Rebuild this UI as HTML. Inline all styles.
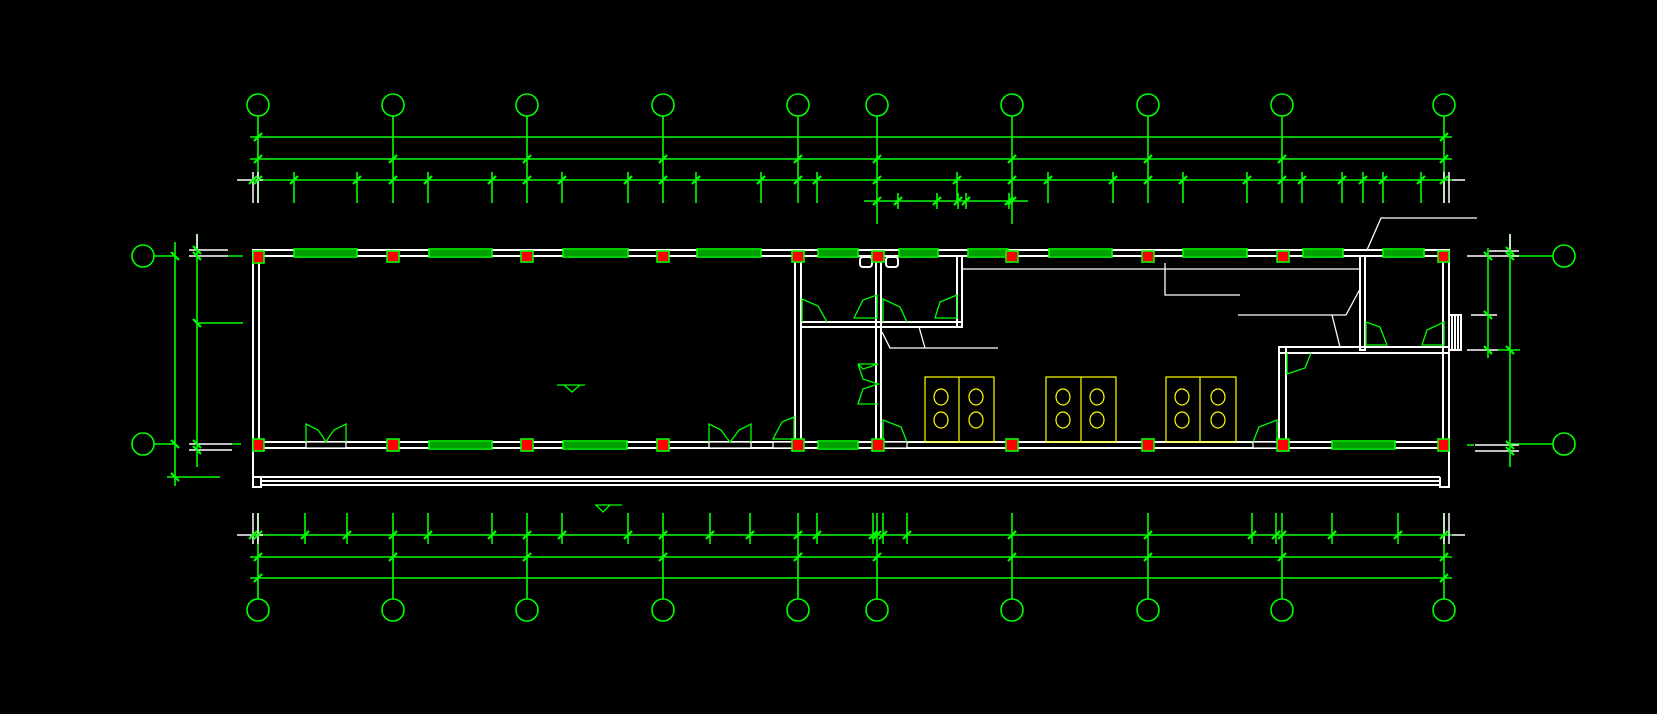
<!DOCTYPE html>
<html><head><meta charset="utf-8"><style>html,body{margin:0;padding:0;background:#000}svg{display:block}</style></head>
<body>
<svg width="1657" height="714" viewBox="0 0 1657 714" xmlns="http://www.w3.org/2000/svg">
<rect width="1657" height="714" fill="#000"/>
<defs>
<g id="tk"><line x1="-4" y1="4" x2="4" y2="-4" stroke="#00ff00" stroke-width="2.2"/></g>
<g id="tkv"><line x1="-4" y1="-4" x2="4" y2="4" stroke="#00ff00" stroke-width="2.2"/></g>
</defs>
<g fill="none" stroke="#00ff00" stroke-width="1.6">
<!-- top axis circles and lines -->
<g>
<circle cx="258" cy="105" r="11"/><circle cx="393" cy="105" r="11"/><circle cx="527" cy="105" r="11"/><circle cx="663" cy="105" r="11"/><circle cx="798" cy="105" r="11"/><circle cx="877" cy="105" r="11"/><circle cx="1012" cy="105" r="11"/><circle cx="1148" cy="105" r="11"/><circle cx="1282" cy="105" r="11"/><circle cx="1444" cy="105" r="11"/>
<path d="M258 116V203M393 116V203M527 116V203M663 116V203M798 116V203M877 116V224M1012 116V224M1148 116V203M1282 116V203M1444 116V203"/>
<path d="M250 137H1452M250 159H1452M252 180H1452M864 201H1028"/>
<path d="M294 172V203M357 172V203M428 172V203M492 172V203M562 172V203M628 172V203M696 172V203M761 172V203M817 172V203M957 172V203M1048 172V203M1113 172V203M1183 172V203M1247 172V203M1302 172V203M1342 172V203M1363 172V203M1383 172V203M1421 172V203M898 193V209M937 193V209M958 193V209M966 193V209M1009 193V209"/>
<!-- bottom -->
<circle cx="258" cy="610" r="11"/><circle cx="393" cy="610" r="11"/><circle cx="527" cy="610" r="11"/><circle cx="663" cy="610" r="11"/><circle cx="798" cy="610" r="11"/><circle cx="877" cy="610" r="11"/><circle cx="1012" cy="610" r="11"/><circle cx="1148" cy="610" r="11"/><circle cx="1282" cy="610" r="11"/><circle cx="1444" cy="610" r="11"/>
<path d="M258 513V599M393 513V599M527 513V599M663 513V599M798 513V599M877 513V599M1012 513V599M1148 513V599M1282 513V599M1444 513V599"/>
<path d="M252 535H1452M250 557H1452M250 578H1452"/>
<path d="M305 513V544M347 513V544M428 513V544M492 513V544M562 513V544M628 513V544M710 513V544M750 513V544M817 513V544M873 513V544M883 513V544M907 513V544M1252 513V544M1276 513V544M1332 513V544M1398 513V544"/>
<!-- left dims -->
<circle cx="143" cy="256" r="11"/><circle cx="143" cy="444" r="11"/>
<path d="M154 256H175M154 444H175M175 242V486M197 234V467M228 256H243M197 323H243M232 444H241M167 477H220"/>
<!-- right dims -->
<circle cx="1564" cy="256" r="11"/><circle cx="1564" cy="444" r="11"/>
<path d="M1510 256H1553M1510 444H1553M1488 248V358M1510 234V467M1498 350H1520M1467 445H1474"/>
</g>
<g stroke="#fff" stroke-width="1.5" fill="none">
<path d="M237 180H252M256 180H263M237 535H252M256 535H263M253 172V203M258 172V203M253 513V544M258 513V544M1452 180H1465M1452 535H1465M1444 172V203M1449 172V203M1444 513V544M1449 513V544"/>
<path d="M189 250H228M189 256H228M189 444H232M189 450H232M1489 251H1519M1467 256H1519M1471 315H1497M1467 350H1498M1475 445H1519M1475 451H1519M197 234V250M1510 234V250"/>
</g>
<!-- ticks -->
<g>
<use href="#tk" x="258" y="137"/><use href="#tk" x="1444" y="137"/>
<use href="#tk" x="258" y="159"/><use href="#tk" x="393" y="159"/><use href="#tk" x="527" y="159"/><use href="#tk" x="663" y="159"/><use href="#tk" x="798" y="159"/><use href="#tk" x="877" y="159"/><use href="#tk" x="1012" y="159"/><use href="#tk" x="1148" y="159"/><use href="#tk" x="1282" y="159"/><use href="#tk" x="1444" y="159"/>
<use href="#tk" x="253" y="180"/><use href="#tk" x="258" y="180"/><use href="#tk" x="294" y="180"/><use href="#tk" x="357" y="180"/><use href="#tk" x="393" y="180"/><use href="#tk" x="428" y="180"/><use href="#tk" x="492" y="180"/><use href="#tk" x="527" y="180"/><use href="#tk" x="562" y="180"/><use href="#tk" x="628" y="180"/><use href="#tk" x="663" y="180"/><use href="#tk" x="696" y="180"/><use href="#tk" x="761" y="180"/><use href="#tk" x="798" y="180"/><use href="#tk" x="817" y="180"/><use href="#tk" x="877" y="180"/><use href="#tk" x="957" y="180"/><use href="#tk" x="1012" y="180"/><use href="#tk" x="1048" y="180"/><use href="#tk" x="1113" y="180"/><use href="#tk" x="1148" y="180"/><use href="#tk" x="1183" y="180"/><use href="#tk" x="1247" y="180"/><use href="#tk" x="1282" y="180"/><use href="#tk" x="1302" y="180"/><use href="#tk" x="1342" y="180"/><use href="#tk" x="1363" y="180"/><use href="#tk" x="1383" y="180"/><use href="#tk" x="1421" y="180"/><use href="#tk" x="1444" y="180"/>
<use href="#tk" x="877" y="201"/><use href="#tk" x="898" y="201"/><use href="#tk" x="937" y="201"/><use href="#tk" x="958" y="201"/><use href="#tk" x="966" y="201"/><use href="#tk" x="1009" y="201"/><use href="#tk" x="1012" y="201"/>
<use href="#tk" x="253" y="535"/><use href="#tk" x="258" y="535"/><use href="#tk" x="305" y="535"/><use href="#tk" x="347" y="535"/><use href="#tk" x="393" y="535"/><use href="#tk" x="428" y="535"/><use href="#tk" x="492" y="535"/><use href="#tk" x="527" y="535"/><use href="#tk" x="562" y="535"/><use href="#tk" x="628" y="535"/><use href="#tk" x="663" y="535"/><use href="#tk" x="710" y="535"/><use href="#tk" x="750" y="535"/><use href="#tk" x="798" y="535"/><use href="#tk" x="817" y="535"/><use href="#tk" x="873" y="535"/><use href="#tk" x="877" y="535"/><use href="#tk" x="883" y="535"/><use href="#tk" x="907" y="535"/><use href="#tk" x="1012" y="535"/><use href="#tk" x="1148" y="535"/><use href="#tk" x="1252" y="535"/><use href="#tk" x="1276" y="535"/><use href="#tk" x="1282" y="535"/><use href="#tk" x="1332" y="535"/><use href="#tk" x="1398" y="535"/><use href="#tk" x="1444" y="535"/>
<use href="#tk" x="258" y="557"/><use href="#tk" x="393" y="557"/><use href="#tk" x="527" y="557"/><use href="#tk" x="663" y="557"/><use href="#tk" x="798" y="557"/><use href="#tk" x="877" y="557"/><use href="#tk" x="1012" y="557"/><use href="#tk" x="1148" y="557"/><use href="#tk" x="1282" y="557"/><use href="#tk" x="1444" y="557"/>
<use href="#tk" x="258" y="578"/><use href="#tk" x="1444" y="578"/>
<use href="#tkv" x="175" y="256"/><use href="#tkv" x="175" y="444"/><use href="#tkv" x="175" y="477"/><use href="#tkv" x="197" y="250"/><use href="#tkv" x="197" y="256"/><use href="#tkv" x="197" y="323"/><use href="#tkv" x="197" y="444"/><use href="#tkv" x="197" y="450"/>
<use href="#tkv" x="1488" y="256"/><use href="#tkv" x="1488" y="315"/><use href="#tkv" x="1488" y="350"/><use href="#tkv" x="1510" y="251"/><use href="#tkv" x="1510" y="256"/><use href="#tkv" x="1510" y="350"/><use href="#tkv" x="1510" y="445"/><use href="#tkv" x="1510" y="451"/>
</g>
<!-- walls -->
<g stroke="#fff" stroke-width="2" fill="none">
<rect x="253" y="250" width="1196" height="6"/>
<rect x="253" y="442" width="1196" height="6"/>
<rect x="253" y="250" width="6" height="198"/>
<rect x="1443" y="250" width="6" height="198"/>
<rect x="795" y="256" width="6" height="186"/>
<rect x="876" y="256" width="5" height="186"/>
<rect x="957" y="256" width="5" height="71"/>
<rect x="801" y="322" width="161" height="5"/>
<rect x="1360" y="256" width="5" height="94"/>
<rect x="1279" y="347" width="170" height="6"/>
<rect x="1279" y="347" width="7" height="95"/>
<rect x="1449" y="315" width="12" height="35"/>
<path d="M1452 315V350M1455 315V350M1458 315V350"/>
<path d="M253 448V487H261V477H253M261 477H1440M261 481H1440M261 485H1440M1440 477V487H1449V448"/>
<rect x="860" y="257" width="12" height="10" rx="3"/><rect x="886" y="257" width="12" height="10" rx="3"/>
</g>
<g stroke="#fff" stroke-width="1.3" fill="none">
<path d="M962 269H1360M1165 263V295H1240M882 332L890 348H998M919 327L925 348M1477 218H1381L1367 250M1238 315H1346L1360 289M1332 315L1340 347"/>
</g>
<!-- windows -->
<g>
<g fill="#000"><rect x="294" y="249" width="63" height="8"/><rect x="429" y="249" width="63" height="8"/><rect x="563" y="249" width="65" height="8"/><rect x="697" y="249" width="64" height="8"/><rect x="818" y="249" width="40" height="8"/><rect x="899" y="249" width="39" height="8"/><rect x="968" y="249" width="40" height="8"/><rect x="1049" y="249" width="63" height="8"/><rect x="1183" y="249" width="64" height="8"/><rect x="1303" y="249" width="40" height="8"/><rect x="1383" y="249" width="41" height="8"/>
<rect x="429" y="441" width="63" height="8"/><rect x="563" y="441" width="64" height="8"/><rect x="818" y="441" width="40" height="8"/><rect x="1332" y="441" width="63" height="8"/></g>
<g stroke="#00ff00" stroke-width="1.2">
<path d="M294 251H357M294 253H357M294 255H357M429 251H492M429 253H492M429 255H492M563 251H628M563 253H628M563 255H628M697 251H761M697 253H761M697 255H761M818 251H858M818 253H858M818 255H858M899 251H938M899 253H938M899 255H938M968 251H1008M968 253H1008M968 255H1008M1049 251H1112M1049 253H1112M1049 255H1112M1183 251H1247M1183 253H1247M1183 255H1247M1303 251H1343M1303 253H1343M1303 255H1343M1383 251H1424M1383 253H1424M1383 255H1424"/>
<path d="M429 443H492M429 445H492M429 447H492M563 443H627M563 445H627M563 447H627M818 443H858M818 445H858M818 447H858M1332 443H1395M1332 445H1395M1332 447H1395"/>
</g>
<g fill="#000" stroke="#fff" stroke-width="1.3"><rect x="306" y="442" width="40" height="6"/><rect x="709" y="442" width="42" height="6"/><rect x="1253" y="442" width="24" height="6"/><rect x="883" y="442" width="24" height="6"/><rect x="773" y="442" width="22" height="6"/></g>
</g>
<!-- doors -->
<g stroke="#00ff00" stroke-width="1.3" fill="none">
<path d="M306 442V424L318 430L323 437L326 442M346 442V424L334 430L329 437L326 442"/>
<path d="M709 442V424L721 430L726 437L730 442M751 442V424L739 430L734 437L730 442"/>
<path d="M773 439H794V417L782 422Z"/>
<path d="M883 442V420L901 427L907 442"/>
<path d="M802 322V299L818 306L827 322"/>
<path d="M854 318H877V295L863 300Z"/>
<path d="M883 322V299L900 307L907 322"/>
<path d="M935 318H957V295L940 302Z"/>
<path d="M858 364H878L863 369L858 364M858 364L863 379L878 384L863 389L858 404H878"/>
<path d="M1366 345V322L1380 327L1387 345Z"/>
<path d="M1422 345H1444V322L1427 330Z"/>
<path d="M1287 353V374L1305 368L1311 353"/>
<path d="M1253 442L1259 427L1277 420V442"/>
<path d="M557 385H585M564 385L572 392L580 385"/>
<path d="M595 505H622M596 505L603 512L610 505"/>
</g>
<!-- toilets -->
<g stroke="#ffff00" stroke-width="1.2" fill="none">
<rect x="925" y="377" width="69" height="65"/><path d="M959 377V442"/>
<rect x="1046" y="377" width="70" height="65"/><path d="M1081 377V442"/>
<rect x="1166" y="377" width="70" height="65"/><path d="M1200 377V442"/>
<ellipse cx="941" cy="397" rx="7" ry="8"/><ellipse cx="976" cy="397" rx="7" ry="8"/><ellipse cx="941" cy="420" rx="7" ry="8"/><ellipse cx="976" cy="420" rx="7" ry="8"/>
<ellipse cx="1063" cy="397" rx="7" ry="8"/><ellipse cx="1097" cy="397" rx="7" ry="8"/><ellipse cx="1063" cy="420" rx="7" ry="8"/><ellipse cx="1097" cy="420" rx="7" ry="8"/>
<ellipse cx="1182" cy="397" rx="7" ry="8"/><ellipse cx="1218" cy="397" rx="7" ry="8"/><ellipse cx="1182" cy="420" rx="7" ry="8"/><ellipse cx="1218" cy="420" rx="7" ry="8"/>
</g>
<!-- columns -->
<g fill="#ff0000">
<rect x="253" y="251" width="11" height="12"/><rect x="387" y="251" width="12" height="11"/><rect x="521" y="251" width="12" height="11"/><rect x="657" y="251" width="12" height="11"/><rect x="792" y="251" width="12" height="11"/><rect x="872" y="251" width="12" height="11"/><rect x="1006" y="251" width="12" height="11"/><rect x="1142" y="251" width="12" height="11"/><rect x="1277" y="251" width="12" height="11"/><rect x="1438" y="251" width="11" height="11"/>
<rect x="253" y="439" width="11" height="12"/><rect x="387" y="439" width="12" height="12"/><rect x="521" y="439" width="12" height="12"/><rect x="657" y="439" width="12" height="12"/><rect x="792" y="439" width="12" height="12"/><rect x="872" y="439" width="12" height="12"/><rect x="1006" y="439" width="12" height="12"/><rect x="1142" y="439" width="12" height="12"/><rect x="1277" y="439" width="12" height="12"/><rect x="1438" y="439" width="11" height="12"/>
</g>
</svg>
</body></html>
